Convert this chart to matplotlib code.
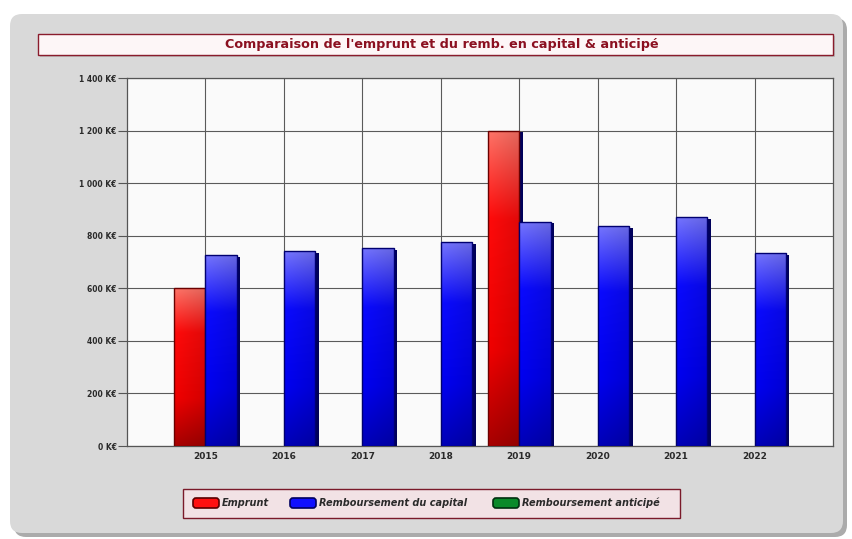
import numpy as np
import matplotlib
matplotlib.use("Agg")
import matplotlib.pyplot as plt
from matplotlib.patches import FancyBboxPatch, Rectangle
import matplotlib.patheffects as pe

# ---- data (K€) ----
years = ["2015", "2016", "2017", "2018", "2019", "2020", "2021", "2022"]
emprunt = [600, 0, 0, 0, 1200, 0, 0, 0]
remb_capital = [727, 743, 754, 777, 854, 838, 872, 735]
remb_anticipe = [0, 0, 0, 0, 0, 0, 0, 0]
series_names = ["Emprunt", "Remboursement du capital", "Remboursement anticipé"]
y_ticks = [0, 200, 400, 600, 800, 1000, 1200, 1400]
y_labels = ["0 K€", "200 K€", "400 K€", "600 K€", "800 K€", "1 000 K€", "1 200 K€", "1 400 K€"]
title = "Comparaison de l'emprunt et du remb. en capital & anticipé"

W, H = 853, 539
fig = plt.figure(figsize=(W / 100, H / 100), dpi=100)
fig.patch.set_facecolor("white")

# ---- background layer in pixel coordinates ----
bg = fig.add_axes([0, 0, 1, 1])
bg.set_xlim(0, W)
bg.set_ylim(H, 0)
bg.axis("off")

bg.add_patch(FancyBboxPatch((14, 18), 833, 519, boxstyle="round,pad=0,rounding_size=12",
                            fc="#ababab", ec="none", zorder=0))
bg.add_patch(FancyBboxPatch((10, 14), 833, 519, boxstyle="round,pad=0,rounding_size=12",
                            fc="#d9d9d9", ec="none", zorder=1))

# title box
bg.add_patch(Rectangle((40, 36), 795, 21, fc="#bcbcbc", ec="none", zorder=2))
bg.add_patch(Rectangle((38, 34), 795, 21, fc="#fdf6f7", ec="#8a1c2c", lw=1.0, zorder=3))
bg.text(442, 44.5, title, ha="center", va="center", color="#8b1020",
        fontsize=9.2, fontweight="bold", family="DejaVu Sans", zorder=4)

# legend box
bg.add_patch(Rectangle((183, 489), 497, 29, fc="#f2e2e5", ec="#7a1a2a", lw=1.0, zorder=2))
leg_colors = [("#ff1010", "#5a0000"), ("#1010ff", "#000060"), ("#0a8a2a", "#003010")]
leg_patch_x = [193, 290, 493]
for name, (fc, ec), px in zip(series_names, leg_colors, leg_patch_x):
    bg.add_patch(FancyBboxPatch((px, 498), 26, 10, boxstyle="round,pad=0,rounding_size=3",
                                fc=fc, ec=ec, lw=1.2, zorder=3))
    bg.text(px + 29, 503, name, ha="left", va="center", fontsize=7,
            fontweight="bold", fontstyle="italic", color="#2a2a2a", zorder=4)

# ---- chart axes ----
ax = fig.add_axes([127 / W, 1 - 446 / H, (833 - 127) / W, (446 - 78) / H])
ax.set_facecolor("#fafafa")
x = np.arange(len(years))
bw = 0.4

shadow = [pe.SimplePatchShadow(offset=(2.5, -1.3), shadow_rgbFace="#00005a", alpha=1.0),
          pe.Normal()]

bars_e = ax.bar(x - bw / 2, emprunt, width=bw, color="#ff0000", lw=0,
                zorder=3, path_effects=shadow)
bars_c = ax.bar(x + bw / 2, remb_capital, width=bw, color="#0000ff", lw=0,
                zorder=4, path_effects=shadow)
bars_a = ax.bar(x + bw * 1.5, remb_anticipe, width=bw, color="#0a8a2a", lw=0, zorder=4)


def gradient(stops, n=120, cols=20):
    t = np.linspace(0, 1, n)
    pos = [s[0] for s in stops]
    rgb = np.array([matplotlib.colors.to_rgb(s[1]) for s in stops])
    img = np.stack([np.interp(t, pos, rgb[:, k]) for k in range(3)], axis=-1)
    img = img[:, None, :].repeat(cols, axis=1)
    shade = np.linspace(1.0, 0.88, cols)[None, :, None]
    return img * shade


red_img = gradient([(0, "#ff7468"), (0.28, "#ff0a0a"), (0.7, "#f00000"), (1, "#a80000")])
blue_img = gradient([(0, "#7676ff"), (0.3, "#0a0aff"), (0.7, "#0000f0"), (1, "#0000b8")])

for bars, img, ec, z in [(bars_e, red_img, "#6a0000", 3), (bars_c, blue_img, "#000070", 4)]:
    for p in bars:
        h = p.get_height()
        if h <= 0:
            continue
        x0, w = p.get_x(), p.get_width()
        im = ax.imshow(img, extent=[x0, x0 + w, 0, h], aspect="auto", origin="upper",
                       zorder=z + 0.1, interpolation="bilinear")
        im.set_clip_path(p)
        ax.add_patch(Rectangle((x0, 0), w, h, fill=False, ec=ec, lw=1.0, zorder=z + 0.2))

ax.set_xlim(-1, 8)
ax.set_ylim(0, 1400)
ax.set_yticks(y_ticks)
ax.set_yticklabels(y_labels)
ax.set_xticks(x)
ax.set_xticklabels(years)
ax.grid(True, color="#5a5a5a", lw=0.8, zorder=0)
ax.set_axisbelow(True)
ax.tick_params(axis="y", length=6.5, width=0.8, color="#555555", labelsize=5.5,
               labelcolor="#2a2a2a", pad=1)
ax.tick_params(axis="x", length=0, labelsize=6.5, labelcolor="#2a2a2a", pad=4)
for lbl in ax.get_xticklabels() + ax.get_yticklabels():
    lbl.set_fontweight("bold")
for s in ax.spines.values():
    s.set_color("#555555")
    s.set_linewidth(0.9)

fig.savefig("out.png", dpi=100, facecolor="white")
